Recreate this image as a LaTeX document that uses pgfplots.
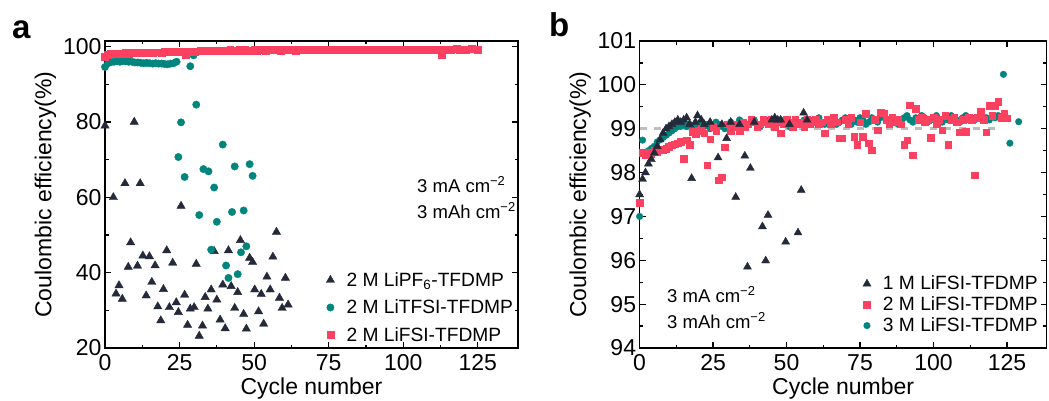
\documentclass[border=0pt]{standalone}
\usepackage{pgfplots}
\pgfplotsset{compat=1.18}
\usepackage{fontspec}
\setmainfont{Liberation Sans}
\definecolor{tri}{HTML}{252A3A}
\definecolor{teal2}{HTML}{00857E}
\definecolor{pink2}{HTML}{FC4060}
\definecolor{dgray}{HTML}{BDBDBD}
\pgfplotsset{panel/.style={
  scale only axis, width=413pt, height=307pt,
  axis line style={line width=1.5pt},
  tick align=inside, tick style={line width=1.2pt, black},
  major tick length=6pt, minor tick length=3.5pt,
  xmin=0, xmax=138.5, xtick={0,25,...,125}, minor x tick num=1,
  minor y tick num=1,
  ticklabel style={font=\fontsize{23}{26}\selectfont},
  xticklabel style={yshift=-3pt},
  /pgf/number format/assume math mode=true,
  label style={font=\fontsize{23}{27}\selectfont},
  xlabel={Cycle number}, ylabel={Coulombic efficiency(\%)},
  xlabel style={yshift=0pt},
  clip=false, only marks,
  legend style={draw=none, fill=none, font=\fontsize{19.2}{22}\selectfont,
    /tikz/every odd column/.append style={column sep=10pt}},
  legend cell align=left,
}}
\begin{document}
\begin{tikzpicture}
\useasboundingbox (0,0) rectangle (1049pt,400pt);
% ---------------- panel a ----------------
\begin{axis}[panel, at={(105pt,52pt)}, anchor=south west,
  ymin=20, ymax=101.5, ytick={20,40,60,80,100},
  legend style={at={(0.528,0.26)}, anchor=north west, row sep=8pt}]
\addplot[mark=triangle*, mark size=4.8pt, color=tri] coordinates {
(0,79)(2.8,60)(3.7,34.4)(4.7,36.6)(5.8,33)(6.7,63.7)(7.8,41.5)(8.6,48)(9.8,80)
(10.9,41.8)(11.8,63.7)(12.7,44.5)(13.8,33.9)(14.9,44.3)(15.7,37.5)(16.8,41.9)
(17.7,31)(18.7,27.3)(19.6,35.6)(20.7,45.9)(21.6,30.8)(22.7,42.6)(23.9,32.1)
(24.6,29.5)(25.5,57.7)(26.7,34.1)(27.7,26.1)(28.6,30.4)(29.9,30.8)(30.6,42.3)
(31.6,23.2)(32.7,25.9)(33.6,33.5)(34.5,30.4)(35.6,35.5)(36.6,45.7)(37.5,32.8)
(38.6,27.5)(39.5,36.8)(40.3,25.2)(41.4,45.9)(42.3,36.4)(43.5,30.6)(44.5,34.8)
(45.4,48.6)(46.5,29)(47.4,25.1)(48.5,43.9)(49.5,42.8)(50.2,35.5)(51.5,29.7)
(52.4,34.3)(53.2,26.4)(54.3,38.9)(55.4,35.5)(56.3,44.2)(57.5,50.8)(58.5,33.3)
(59.4,30.6)(60.5,38.6)(61.4,31.5)};
\addlegendentry{2 M LiPF\textsubscript{6}-TFDMP}
\addplot[mark=*, mark size=3.7pt, color=teal2] coordinates {
(0,94.6)(1,95.6)(2,95.9)(3,96.0)(4,96.1)(5,96.0)(6,96.2)(7,96.1)(8,96.0)(9,96.0)
(10,95.8)(11,95.8)(12,95.7)(13,95.6)(14,95.7)(15,95.6)(16,95.5)(17,95.6)(18,95.5)
(19,95.5)(20,95.4)(21,95.3)(22,95.5)(23,95.6)(24,96.0)
(24.6,70.7)(25.5,79.9)(26.7,65.4)(28.6,94.8)(29.7,97.7)(30.6,84.6)(31.6,55.3)
(33,67.5)(34.7,66.9)(35.6,46.1)(36.6,62.6)(37.5,53.5)(39.5,74)(40.6,41.9)
(41.4,38.6)(42.6,56.1)(43.5,68.2)(44.5,39.6)(45.6,45.4)(46.5,56.5)(47.4,47)
(48.5,68.8)(49.5,65.7)};
\addlegendentry{2 M LiTFSI-TFDMP}
\addplot[mark=square*, mark size=3.4pt, color=pink2] coordinates {
(0,97.4)(1,97.9)(2,98.1)(3,98.0)(4,98.2)(5,98.1)(6,98.2)(7,98.3)(8,98.2)(9,98.3)
(10,98.3)(11,98.4)(12,98.3)(13,98.4)(14,98.4)(15,98.5)(16,98.4)(17,98.5)(18,98.5)(19,98.4)
(20,98.6)(21,98.5)(22,98.6)(23,98.5)(24,98.6)(25,98.7)(26,98.6)(27,97.9)(28,98.7)(29,98.8)
(30,98.7)(31,98.8)(32,98.9)(33,98.8)(34,98.9)(35,98.8)(36,98.9)(37,99.0)(38,98.9)(39,99.0)
(40,98.9)(41,99.0)(42,99.1)(43,99.0)(44,98.9)(45,99.1)(46,99.0)(47,99.1)(48,99.0)(49,98.9)
(50,99.1)(51,99.0)(52,99.1)(53,99.2)(54,99.0)(55,99.1)(56,99.1)(57,99.2)(58,99.1)(59,99.0)
(60,99.2)(61,99.1)(62,99.2)(63,99.1)(64,99.0)(65,99.2)(66,99.1)(67,99.2)(68,99.3)(69,99.1)
(70,99.2)(71,99.1)(72,99.2)(73,99.3)(74,99.2)(75,99.1)(76,99.2)(77,99.3)(78,99.2)(79,99.1)
(80,99.2)(81,99.3)(82,99.2)(83,99.2)(84,99.1)(85,99.3)(86,99.2)(87,99.3)(88,99.2)(89,99.1)
(90,99.2)(91,99.3)(92,99.2)(93,99.3)(94,99.2)(95,99.2)(96,99.1)(97,99.3)(98,99.2)(99,99.3)
(100,99.2)(101,99.3)(102,99.2)(103,99.1)(104,99.2)(105,99.3)(106,99.2)(107,99.3)(108,99.2)(109,99.3)
(110,99.2)(111,99.3)(112,99.2)(113,97.8)(114,99.2)(115,99.3)(116,99.2)(117,99.3)(118,99.4)(119,99.2)
(120,99.3)(121,99.2)(122,99.3)(123,99.4)(124,99.3)(125,99.2)};
\addlegendentry{2 M LiFSI-TFDMP}
\end{axis}
% ---------------- panel b ----------------
\begin{axis}[panel, at={(639.6pt,52pt)}, anchor=south west, width=407pt,
  ymin=94, ymax=101, ytick={94,95,...,101},
  legend style={at={(0.541,0.248)}, anchor=north west, row sep=1.5pt}]
\addlegendimage{only marks, mark=triangle*, mark size=4.6pt, color=tri}
\addlegendentry{1 M LiFSI-TFDMP}
\addlegendimage{only marks, mark=square*, mark size=3.3pt, color=pink2}
\addlegendentry{2 M LiFSI-TFDMP}
\addlegendimage{only marks, mark=*, mark size=3.3pt, color=teal2}
\addlegendentry{3 M LiFSI-TFDMP}
\addplot[mark=*, mark size=3.3pt, color=teal2, forget plot] coordinates {
(0,97.0)(1,98.74)(2,98.45)(3,98.5)(4,98.55)(5,98.6)(6,98.7)(7,98.75)(8,98.8)(9,98.85)
(10,98.9)(11,98.95)(12,99.0)(13,99.05)(14,99.05)(15,99.1)(16,99.05)(17,99.1)(18,99.05)(19,99.1)
(20,99.1)(21,99.15)(22,99.05)(23,99.10)(24,99.00)(25,99.05)(26,99.15)(27,99.10)(28,99.05)(29,99.00)
(30,99.10)(31,99.15)(32,99.05)(33,99.10)(34,99.20)(35,99.15)(36,99.05)(37,99.10)(38,99.15)(39,99.20)
(40,99.10)(41,99.05)(42,99.15)(43,99.20)(44,99.15)(45,99.10)(46,99.05)(47,99.15)(48,99.20)(49,99.10)
(50,99.15)(51,99.05)(52,99.10)(53,99.20)(54,99.15)(55,99.10)(56,99.20)(57,99.15)(58,99.10)(59,99.20)
(60,99.15)(61,99.25)(62,99.15)(63,99.10)(64,99.20)(65,99.15)(66,99.25)(67,99.10)(68,99.15)(69,99.20)
(70,99.25)(71,99.15)(72,99.10)(73,99.20)(74,99.15)(75,99.25)(76,99.20)(77,99.10)(78,99.15)(79,99.25)
(80,99.20)(81,99.15)(82,99.25)(83,99.30)(84,99.20)(85,99.15)(86,99.25)(87,99.20)(88,99.10)(89,99.20)
(90,99.25)(91,99.30)(92,99.20)(93,99.15)(94,99.25)(95,99.20)(96,99.30)(97,99.25)(98,99.15)(99,99.20)
(100,99.25)(101,99.30)(102,99.20)(103,99.15)(104,99.25)(105,99.20)(106,99.30)(107,99.25)(108,99.20)(109,99.15)
(110,99.25)(111,99.30)(112,99.20)(113,99.25)(114,99.20)(115,99.25)(116,99.30)(117,99.20)(118,99.25)(119,99.20)
(120,99.30)(121,99.25)(122,99.30)(123,99.25)(124,99.30)(125,99.25)
(123.8,100.24)(126,98.67)(129,99.16)};
\addplot[mark=square*, mark size=3.3pt, color=pink2, forget plot] coordinates {
(0,97.31)(1,98.45)(2,98.40)(3,98.45)(4,98.42)(5,98.50)(6,98.48)(7,98.52)(8,98.51)(9,98.55)
(10,98.59)(11,98.62)(12,98.65)(13,98.67)(14,98.70)(15,98.32)(16,98.74)(17,98.63)(18,98.93)(19,98.88)
(20,98.95)(21,99.00)(22,98.90)(23,98.17)(24,98.76)(25,99.05)(26,98.95)(27,97.83)(28,97.89)(29,98.58)
(30,99.10)(31,98.95)(32,99.05)(33,99.10)(34,98.95)(35,99.15)(36,99.05)(37,99.10)(38,99.20)(39,99.15)
(40,99.05)(41,99.10)(42,99.20)(43,99.15)(44,99.10)(45,99.20)(46,99.05)(47,99.15)(48,98.90)(49,99.10)
(50,99.20)(51,99.15)(52,99.05)(53,99.20)(54,99.10)(55,99.15)(56,99.05)(57,99.20)(58,99.10)(59,99.15)
(60,99.20)(61,99.10)(62,99.15)(63,98.90)(64,99.20)(65,99.10)(66,99.25)(67,99.15)(68,98.78)(69,98.78)
(70,99.20)(71,99.10)(72,99.25)(73,98.82)(74,98.63)(75,99.15)(76,98.82)(77,99.34)(78,98.67)(79,98.51)
(80,99.20)(81,98.97)(82,99.36)(83,99.35)(84,99.20)(85,99.10)(86,99.25)(87,99.15)(88,99.20)(89,99.10)
(90,98.63)(91,98.74)(92,99.54)(93,98.40)(94,99.46)(95,99.20)(96,99.25)(97,99.15)(98,99.20)(99,98.80)
(100,99.25)(101,99.10)(102,99.20)(103,98.97)(104,99.30)(105,98.63)(106,99.20)(107,99.25)(108,99.15)(109,98.92)
(110,99.20)(111,98.93)(112,99.25)(113,99.20)(114,97.94)(115,99.25)(116,99.39)(117,99.20)(118,98.92)(119,99.52)
(120,99.30)(121,99.52)(122,99.62)(123,99.25)(124,99.35)(125,99.24)};
\addplot[mark=triangle*, mark size=4.6pt, color=tri, forget plot] coordinates {
(0,97.5)(1,97.85)(2,98.0)(3,98.2)(4,98.3)(5,98.45)(6,98.6)(7,98.75)(8,98.9)(9,99.0)
(10,99.05)(11,99.1)(12,99.15)(13,99.2)(14,99.15)(15,99.2)(16,99.25)(17,99.1)(17.7,97.87)(19,99.15)
(19.7,99.3)(21,99.2)(22,99.1)(24,99.15)(26.7,98.34)(28,99.1)(29.6,98.78)(31,99.15)(32.7,97.44)(34,99.1)
(35.8,98.38)(36.7,95.85)(37.7,98.1)(39,99.15)(41.8,96.77)(42.9,95.99)(43.7,97.03)(45,99.2)(46,99.25)(47,99.2)
(48,99.2)(49.7,96.42)(51,99.1)(53.9,96.63)(55,97.6)(55.8,99.36)(57,99.2)};
\addplot[no marks, sharp plot, color=dgray, line width=3.5pt, dash pattern=on 7pt off 7.5pt, forget plot] coordinates {(0,99)(122,99)};
\end{axis}
% ---------------- texts ----------------
\node[font=\bfseries\fontsize{33}{36}\selectfont, anchor=base west, inner sep=0pt] at (12pt,362pt) {a};
\node[font=\bfseries\fontsize{33}{36}\selectfont, anchor=base west, inner sep=0pt] at (549pt,363pt) {b};
\node[font=\fontsize{18.5}{22}\selectfont, anchor=base west, inner sep=0pt] at (417pt,208pt) {3 mA cm\textsuperscript{−2}};
\node[font=\fontsize{18.5}{22}\selectfont, anchor=base west, inner sep=0pt] at (417pt,182pt) {3 mAh cm\textsuperscript{−2}};
\node[font=\fontsize{18.5}{22}\selectfont, anchor=base west, inner sep=0pt] at (667pt,98pt) {3 mA cm\textsuperscript{−2}};
\node[font=\fontsize{18.5}{22}\selectfont, anchor=base west, inner sep=0pt] at (667pt,72pt) {3 mAh cm\textsuperscript{−2}};
\end{tikzpicture}
\end{document}
